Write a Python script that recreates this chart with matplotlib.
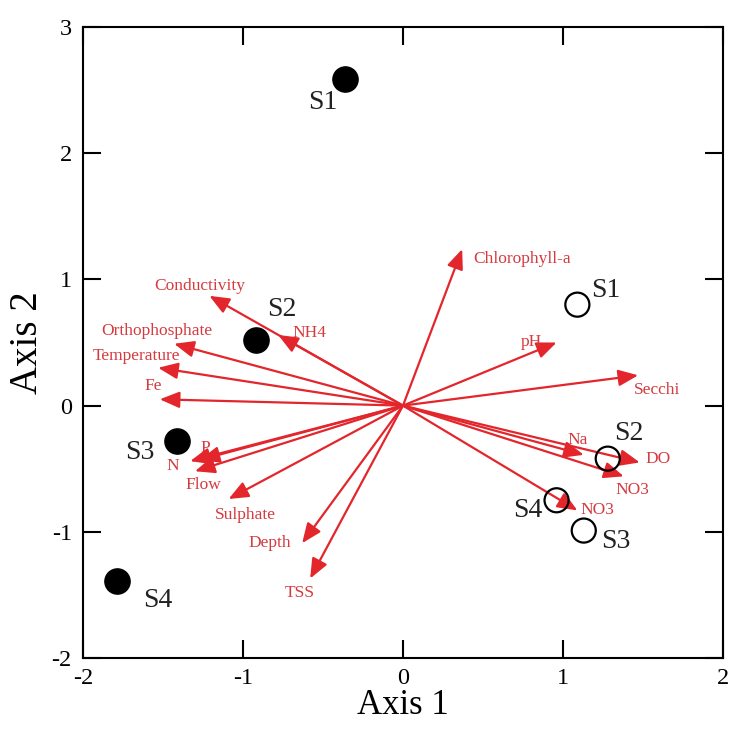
import matplotlib
matplotlib.use("Agg")
import matplotlib.pyplot as plt

# site scores (filled = one survey, open = the other)
filled_sites = ["S1", "S2", "S3", "S4"]
filled_x = [-0.36, -0.92, -1.41, -1.79]
filled_y = [2.59, 0.52, -0.28, -1.39]

open_sites = ["S1", "S2", "S4", "S3"]
open_x = [1.09, 1.28, 0.96, 1.13]
open_y = [0.80, -0.42, -0.75, -0.99]

# environmental vectors
var_names = ["Conductivity", "NH4", "Orthophosphate", "Temperature", "Fe", "P", "N",
             "Flow", "Sulphate", "Depth", "TSS", "Chlorophyll-a", "pH", "Secchi",
             "Na", "DO", "NO3", "NO3"]
var_x = [-1.21, -0.78, -1.43, -1.53, -1.52, -1.27, -1.33, -1.30, -1.09, -0.63, -0.58,
         0.37, 0.96, 1.47, 1.13, 1.48, 1.38, 1.09]
var_y = [0.87, 0.56, 0.49, 0.30, 0.05, -0.43, -0.44, -0.52, -0.74, -1.09, -1.37,
         1.24, 0.50, 0.24, -0.39, -0.45, -0.56, -0.83]

# label offsets in pixels from the arrow tip / site marker
var_off = [(-10, 10), (14, 2), (-17, 13), (-22, 12), (-7, 13), (6, 12), (-17, -5),
           (8, -14), (17, -16), (-32, 0), (-10, -14), (11, -10), (-25, 1), (19, -15),
           (-6, 15), (18, 3), (9, -14), (20, 0)]
var_ha = ["center", "left", "center", "center", "center", "center", "center",
          "center", "center", "center", "center", "left", "center", "center",
          "center", "center", "center", "center"]
filled_off = [(-23, -24), (26, 30), (-38, -12), (41, -19)]
open_off = [(28, 14), (21, 25), (-29, -10), (32, -11)]

ARROW = "#e3262c"
LABEL = "#d53a3f"

plt.rcParams["font.family"] = ["Liberation Serif", "DejaVu Serif"]
plt.rcParams["axes.unicode_minus"] = False

fig = plt.figure(figsize=(7.31, 7.34), dpi=100)
ax = fig.add_axes([0.1135, 0.1035, 0.8755, 0.8597])

for name, x, y, (dx, dy), ha in zip(var_names, var_x, var_y, var_off, var_ha):
    ax.annotate("", xy=(x, y), xytext=(0, 0),
                arrowprops=dict(arrowstyle="-|>,head_length=0.6,head_width=0.25",
                                color=ARROW, lw=1.6, mutation_scale=20,
                                shrinkA=0, shrinkB=0))
    ax.annotate(name, xy=(x, y), xytext=(dx, dy), textcoords="offset pixels",
                ha=ha, va="center", fontsize=12.5, color=LABEL)

ax.scatter(filled_x, filled_y, s=330, color="black", zorder=3)
ax.scatter(open_x, open_y, s=300, facecolor="none", edgecolor="black",
           linewidth=1.6, zorder=3)

for name, x, y, (dx, dy) in zip(filled_sites, filled_x, filled_y, filled_off):
    ax.annotate(name, xy=(x, y), xytext=(dx, dy), textcoords="offset pixels",
                ha="center", va="center", fontsize=20, color="#222222")
for name, x, y, (dx, dy) in zip(open_sites, open_x, open_y, open_off):
    ax.annotate(name, xy=(x, y), xytext=(dx, dy), textcoords="offset pixels",
                ha="center", va="center", fontsize=20, color="#222222")

ax.set_xlim(-2, 2)
ax.set_ylim(-2, 3)
ax.set_xticks([-2, -1, 0, 1, 2])
ax.set_yticks([-2, -1, 0, 1, 2, 3])
ax.tick_params(direction="in", length=13, width=1.5, labelsize=17.5,
               top=True, right=True)
ax.tick_params(axis="x", pad=7)
ax.tick_params(axis="y", pad=8)
for sp in ax.spines.values():
    sp.set_linewidth(1.5)

ax.set_xlabel("Axis 1", fontsize=25, labelpad=0)
ax.set_ylabel("Axis 2", fontsize=28, labelpad=4)

fig.savefig("out.png", dpi=100)
